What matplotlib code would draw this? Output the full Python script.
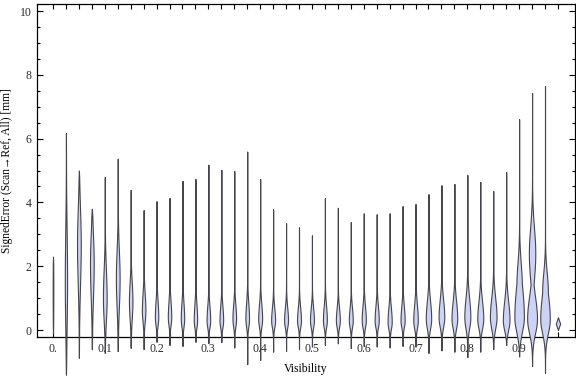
import numpy as np
import matplotlib
matplotlib.use("Agg")
import matplotlib.pyplot as plt

plt.rcParams['font.family'] = ['Liberation Serif', 'DejaVu Serif']

# Visibility bins (step 0.025)
positions = [round(0.025 * i, 3) for i in range(40)]

# max / min of each violin
tops = [2.3, 6.17, 5.0, 3.8, 4.8, 5.37, 4.39, 3.76, 4.04, 4.14,
        4.67, 4.73, 5.18, 5.02, 4.98, 5.59, 4.73, 3.78, 3.35, 3.22,
        2.97, 4.13, 3.83, 3.38, 3.66, 3.63, 3.66, 3.88, 3.95, 4.26,
        4.54, 4.58, 4.86, 4.64, 4.36, 4.95, 6.61, 7.43, 7.65, 0.4]
bottoms = [-0.1, -1.4, -0.87, -0.6, -0.72, -0.66, -0.56, -0.6, -0.37, -0.47,
           -0.5, -0.37, -0.41, -0.38, -0.55, -1.07, -0.94, -0.68, -0.66, -0.6,
           -0.52, -0.47, -0.42, -0.56, -0.5, -0.52, -0.55, -0.5, -0.52, -0.72,
           -0.64, -0.68, -0.85, -0.68, -0.6, -0.47, -0.83, -1.13, -1.34, 0.0]

# where each violin is widest, its half-width (visibility units) and spread
modes = [1.2, 1.5, 2.7, 2.1, 1.0, 1.6, 0.9, 0.6, 0.4, 0.4,
         0.35, 0.3, 0.3, 0.3, 0.35, 0.35, 0.35, 0.3, 0.3, 0.3,
         0.3, 0.3, 0.3, 0.3, 0.3, 0.3, 0.25, 0.3, 0.3, 0.35,
         0.4, 0.35, 0.4, 0.35, 0.4, 0.3, 0.4, 0.35, 0.35, 0.2]
half_widths = [0.0006, 0.0022, 0.0036, 0.0036, 0.0036, 0.0036, 0.0034, 0.0034, 0.0033, 0.0033,
               0.0033, 0.0033, 0.0035, 0.0035, 0.0035, 0.0035, 0.0038, 0.0038, 0.0038, 0.0038,
               0.0038, 0.0038, 0.0038, 0.0038, 0.0040, 0.0040, 0.0040, 0.0040, 0.0044, 0.0052,
               0.0055, 0.0055, 0.0058, 0.0058, 0.0064, 0.0064, 0.0092, 0.0095, 0.0092, 0.0042]
spread_up = [1.0, 1.6, 1.1, 0.9, 0.9, 0.9, 0.6, 0.55, 0.5, 0.5,
             0.5, 0.5, 0.45, 0.45, 0.45, 0.5, 0.45, 0.4, 0.4, 0.4,
             0.4, 0.45, 0.4, 0.4, 0.45, 0.45, 0.45, 0.45, 0.5, 0.55,
             0.55, 0.55, 0.6, 0.55, 0.6, 0.6, 1.0, 0.7, 0.8, 0.5]
spread_down = [1.0, 1.4, 1.3, 1.1, 0.7, 0.9, 0.55, 0.35, 0.25, 0.25,
               0.25, 0.22, 0.22, 0.22, 0.25, 0.25, 0.25, 0.22, 0.22, 0.22,
               0.22, 0.22, 0.22, 0.22, 0.22, 0.22, 0.22, 0.22, 0.25, 0.3,
               0.3, 0.3, 0.35, 0.3, 0.35, 0.3, 0.45, 0.45, 0.45, 0.5]
# second bulge on a few of the high-visibility violins: index -> (y, half-width, spread)
shoulders = {36: (1.4, 0.0052, 0.7), 37: (2.4, 0.0062, 0.8), 38: (1.2, 0.0055, 0.6)}

x_labels = ['0.', '0.1', '0.2', '0.3', '0.4', '0.5', '0.6', '0.7', '0.8', '0.9']

fill_col = '#cdd3f4'
edge_col = '#45454d'

fig = plt.figure(figsize=(5.76, 3.77), dpi=100)
ax = fig.add_axes([37 / 576, 1 - 337 / 377, 538 / 576, 333 / 377])

for i, x in enumerate(positions):
    lo, hi = bottoms[i], tops[i]
    y = np.linspace(lo, hi, 400)
    s = np.where(y >= modes[i], spread_up[i], spread_down[i])
    w = half_widths[i] * np.exp(-0.5 * ((y - modes[i]) / s) ** 2)
    if i in shoulders:
        m2, w2, s2 = shoulders[i]
        w = np.maximum(w, w2 * np.exp(-0.5 * ((y - m2) / s2) ** 2))
    taper = min(0.2, (hi - lo) / 2)
    w = w * np.clip(np.minimum(y - lo, hi - y) / taper, 0, 1)
    ax.fill_betweenx(y, x - w, x + w, facecolor=fill_col, edgecolor=edge_col,
                     linewidth=0.8, clip_on=False, zorder=3)

ax.set_xlim(-0.0309, 1.0079)
ax.set_ylim(-0.219, 10.22)

ax.set_xticks(positions)
ax.set_xticklabels([x_labels[i // 4] if i % 4 == 0 else '' for i in range(len(positions))])
ax.set_yticks([0, 2, 4, 6, 8, 10])
ax.set_yticks(np.arange(0, 10.01, 0.5), minor=True)

ax.tick_params(axis='both', which='both', direction='in', top=True, right=True,
               labelsize=8.5, labelcolor='#2a2a2a', width=0.8)
ax.tick_params(axis='x', which='major', length=3.5, pad=4)
ax.tick_params(axis='y', which='major', length=4, pad=4)
ax.tick_params(axis='y', which='minor', length=2)
for sp in ax.spines.values():
    sp.set_linewidth(0.9)

ax.set_xlabel('Visibility', fontsize=8.5, labelpad=6)
ax.set_ylabel('SignedError (Scan\u2192Ref, All) [mm]', fontsize=8.3, labelpad=5)

fig.savefig('out.png', dpi=100)
